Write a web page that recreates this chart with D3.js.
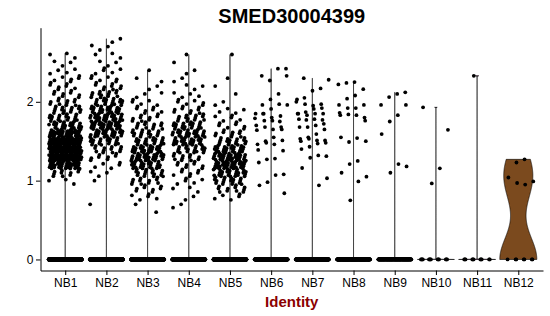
<!DOCTYPE html>
<html>
<head>
<meta charset="utf-8">
<script src="https://cdn.jsdelivr.net/npm/d3@7"></script>
<style>
	body { margin: 0; background: #fff; }
	svg { display: block; }
	text { font-family: "Liberation Sans", Arial, Helvetica, sans-serif; }
</style>
</head>
<body>
<div id="chart"></div>
<script>
// clusters on the x axis
const groups = ["NB1", "NB2", "NB3", "NB4", "NB5", "NB6", "NB7", "NB8", "NB9", "NB10", "NB11", "NB12"];
// cells with zero expression (the flat band at 0), estimated
const zeroCounts = [1300, 900, 800, 700, 800, 400, 400, 300, 200, 14, 11, 7];
const yTicks = [0, 1, 2];

// big clusters: counts of non-zero cells per 0.1 wide bin
const binCentres = [0.6, 0.7, 0.8, 0.9, 1.0, 1.1, 1.2, 1.3, 1.4, 1.5, 1.6, 1.7, 1.8, 1.9, 2.0, 2.1, 2.2, 2.3, 2.4, 2.5, 2.6, 2.7, 2.8];
const nb1Bins = [0, 0, 0, 0, 3, 10, 38, 56, 60, 55, 40, 25, 18, 15, 11, 8, 7, 6, 4, 3, 3, 0, 0];
const nb2Bins = [0, 1, 0, 0, 1, 3, 5, 8, 12, 19, 27, 31, 30, 25, 19, 13, 9, 6, 5, 3, 3, 3, 2];
const nb3Bins = [1, 1, 5, 8, 11, 16, 25, 31, 27, 19, 15, 12, 9, 7, 5, 3, 2, 2, 1, 0, 0, 0, 0];
const nb4Bins = [0, 2, 2, 3, 5, 7, 8, 11, 18, 25, 25, 20, 13, 9, 6, 4, 3, 2, 2, 1, 1, 0, 0];
const nb5Bins = [0, 0, 5, 11, 17, 25, 35, 35, 26, 17, 10, 7, 5, 4, 2, 1, 1, 1, 0, 0, 1, 0, 0];

// small clusters: non-zero values one by one
const nb6Values = [2.42, 2.42, 2.27, 2.33, 2.33, 2.10, 2.03, 1.96, 1.96, 1.97, 1.91, 1.85, 1.79, 1.75, 1.80, 1.85, 1.85, 1.82, 1.76, 1.76, 1.70, 1.68, 1.65, 1.68, 1.64, 1.65, 1.55, 1.50, 1.46, 1.51, 1.46, 1.48, 1.39, 1.38, 1.28, 1.27, 1.23, 1.08, 1.07, 0.98, 0.94, 0.84];
const nb7Values = [2.30, 2.28, 2.17, 2.14, 2.05, 2.00, 1.97, 1.95, 1.97, 2.03, 1.92, 1.91, 1.87, 1.85, 1.77, 1.78, 1.77, 1.85, 1.85, 1.85, 1.83, 1.78, 1.72, 1.70, 1.68, 1.68, 1.65, 1.59, 1.55, 1.53, 1.51, 1.51, 1.53, 1.50, 1.48, 1.47, 1.43, 1.40, 1.31, 1.32, 1.29, 1.16, 1.03, 0.94];
const nb8Values = [2.25, 2.24, 2.22, 2.16, 2.08, 2.04, 1.96, 1.96, 1.92, 1.92, 1.86, 1.80, 1.83, 1.84, 1.83, 1.76, 1.54, 1.49, 1.55, 1.50, 1.25, 1.21, 1.10, 1.05, 0.99, 0.75];
const nb9Values = [2.12, 2.10, 2.06, 1.96, 1.96, 1.83, 1.75, 1.59, 1.18, 1.21, 1.10];
const nb10Values = [1.93, 1.645, 1.156, 0.964];
const nb11Values = [2.33];
const nb12Values = [1.27, 1.23, 1.04, 0.99, 0.95, 0.97];

const violinFill = ["#F8766D", "#DE8C00", "#B79F00", "#7CAE00", "#00BA38", "#00C08B", "#00BFC4", "#00B4F0", "#619CFF", "#C77CFF", "#F564E3", "#7B4A1E"];

const W = 550,
	H = 316,
	panelLeft = 40.5,
	panelRight = 543,
	panelTop = 27.7,
	panelBottom = 270.5;

// low discrepancy steps (R2 sequence), a fixed stand-in for ggplot's jitter
const a1 = 0.7548776662,
	a2 = 0.5698402910;
const frac = (v) => v - Math.floor(v);

function buildCells() {
	const bins = [nb1Bins, nb2Bins, nb3Bins, nb4Bins, nb5Bins];
	const lists = [null, null, null, null, null, nb6Values, nb7Values, nb8Values, nb9Values, nb10Values, nb11Values, nb12Values];
	return groups.map((g, gi) => {
		// each cell: value v and a jitter position jx in [0, 1)
		const pts = d3.range(zeroCounts[gi]).map((i) => ({ v: 0, jx: frac(0.5 + i * a1 + gi * 0.31) }));
		if (gi < bins.length) {
			bins[gi].forEach((c, bi) => {
				for (let j = 0; j < c; j++) {
					pts.push({
						v: binCentres[bi] + (frac(0.5 + j * a2) - 0.5) * 0.1,
						jx: frac(0.5 + j * a1 + bi * 0.377 + gi * 0.13),
					});
				}
			});
		} else {
			lists[gi].forEach((v, i) => pts.push({ v: v, jx: frac(0.5 + i * a1 + gi * 0.29) }));
		}
		return { group: g, index: gi, cells: pts, values: pts.map((p) => p.v) };
	});
}

function density(values) {
	const n = values.length;
	const sorted = values.slice().sort(d3.ascending);
	const sd = d3.deviation(sorted);
	const iqr = d3.quantileSorted(sorted, 0.75) - d3.quantileSorted(sorted, 0.25);
	let lo = Math.min(sd, iqr / 1.34);
	if (!(lo > 0)) lo = 1e-5; // Seurat adds tiny noise, so a zero IQR stays tiny
	const bw = 0.9 * lo * Math.pow(n, -0.2);
	const y0 = sorted[0],
		y1 = sorted[n - 1];
	return d3.range(512).map((i) => {
		const t = i === 511 ? y1 : y0 + ((y1 - y0) * i) / 511;
		let s = 0;
		for (let k = 0; k < n; k++) {
			const u = (t - sorted[k]) / bw;
			if (u > -8 && u < 8) s += Math.exp(-0.5 * u * u);
		}
		return { v: t, d: s / (n * bw * Math.sqrt(2 * Math.PI)) };
	});
}

const groupsData = buildCells();
const yMax = d3.max(groupsData, (c) => d3.max(c.values));
const yPad = yMax * 0.05;

const x = d3.scalePoint().domain(groups).range([panelLeft, panelRight]).padding(0.6);
const y = d3.scaleLinear().domain([-yPad, yMax + yPad]).range([panelBottom, panelTop]);
const step = x.step();

const svg = d3
	.select("#chart")
	.append("svg")
	.attr("width", W)
	.attr("height", H);

// violins
const area = d3
	.area()
	.x0((d) => d.cx - d.w)
	.x1((d) => d.cx + d.w)
	.y((d) => y(d.v));

groupsData.forEach((c) => {
	const dens = density(c.values);
	const maxD = d3.max(dens, (d) => d.d);
	const cx = x(c.group);
	const pts = dens.map((d) => ({ v: d.v, w: (d.d / maxD) * 0.45 * step, cx: cx }));
	svg
		.append("path")
		.attr("d", area(pts))
		.attr("fill", violinFill[c.index])
		.attr("stroke", "#000")
		.attr("stroke-width", 0.6);
});

// jittered cells
const dots = svg.append("g");
groupsData.forEach((c) => {
	const cx = x(c.group);
	dots
		.selectAll(null)
		.data(c.cells)
		.enter()
		.append("circle")
		.attr("cx", (d) => cx + (d.jx - 0.5) * 0.8 * step)
		.attr("cy", (d) => y(d.v))
		.attr("r", 1.9)
		.attr("fill", "#000");
});

// axes
const yAxis = svg
	.append("g")
	.attr("transform", `translate(${panelLeft},0)`)
	.call(d3.axisLeft(y).tickValues(yTicks).tickFormat(d3.format("d")).tickSize(4.5).tickSizeOuter(0).tickPadding(2.5));
const xAxis = svg
	.append("g")
	.attr("transform", `translate(0,${panelBottom})`)
	.call(d3.axisBottom(x).tickSize(4.5).tickSizeOuter(0).tickPadding(3));

[yAxis, xAxis].forEach((a) => {
	a.selectAll("text").attr("font-size", 12).attr("fill", "#000").style("font-family", '"Liberation Sans", Arial, sans-serif');
	a.selectAll("line, path").attr("stroke", "#000").attr("stroke-width", 1);
});

// titles
svg
	.append("text")
	.attr("x", (panelLeft + panelRight) / 2)
	.attr("y", 22.5)
	.attr("text-anchor", "middle")
	.attr("font-size", 20)
	.attr("font-weight", "bold")
	.text("SMED30004399");

svg
	.append("text")
	.attr("x", (panelLeft + panelRight) / 2)
	.attr("y", 306.5)
	.attr("text-anchor", "middle")
	.attr("font-size", 15)
	.attr("font-weight", "bold")
	.attr("fill", "#8B0000")
	.text("Identity");
</script>
</body>
</html>
